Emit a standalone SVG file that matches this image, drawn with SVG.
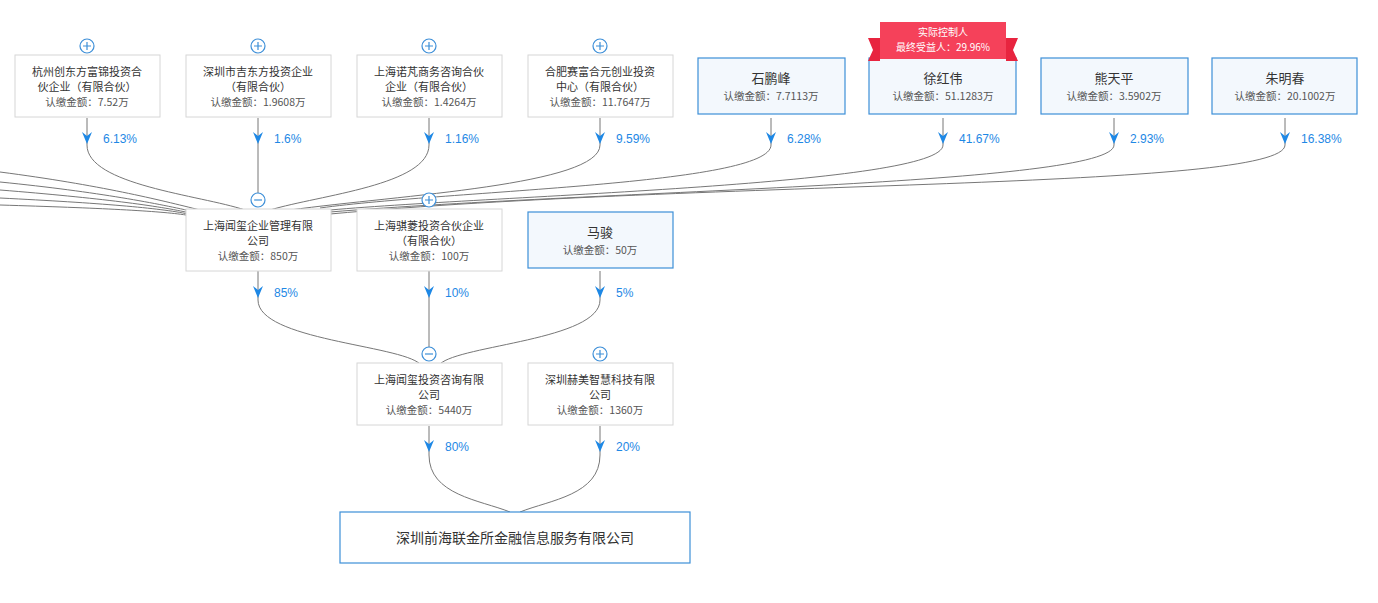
<svg xmlns="http://www.w3.org/2000/svg" width="1378" height="603" viewBox="0 0 1378 603">
<style>
.b{fill:#fff;stroke:#d6d6d6;stroke-width:1}
.p{fill:#f3f8fd;stroke:#3d8fd8;stroke-width:1.2}
.t{font-family:"Noto Sans CJK SC","Liberation Sans",sans-serif;font-size:11px;fill:#333;text-anchor:middle}
.n{font-family:"Noto Sans CJK SC","Liberation Sans",sans-serif;font-size:13px;fill:#333;text-anchor:middle}
.s{font-family:"Noto Sans CJK SC","Liberation Sans",sans-serif;font-size:10.5px;fill:#555;text-anchor:middle}
.pc{font-family:"Liberation Sans",sans-serif;font-size:12px;fill:#1e88e5}
.l{fill:none;stroke:#777;stroke-width:1}
.c{fill:#fff;stroke:#3d8fd8;stroke-width:1.2}
.cl{stroke:#3d8fd8;stroke-width:1.2}
</style>
<defs>
<marker id="a" markerWidth="10" markerHeight="12" refX="5" refY="10" orient="auto-start-reverse" markerUnits="userSpaceOnUse">
<path d="M0,0 L5,4 L10,0 L5,12 Z" fill="#1e88e5"/>
</marker>
</defs>
<rect width="1378" height="603" fill="#fff"/>
<g id="connectors">
<path class="l" d="M87,118 V145 C87,185 200,195 245,210"/>
<path class="l" d="M258,118 V195"/>
<path class="l" d="M429,118 V145 C429,185 320,195 270,210"/>
<path class="l" d="M600,118 V145 C600,185 400,195 290,210"/>
<path class="l" d="M771,118 V145 C771,185 450,190 320,208"/>
<path class="l" d="M943,118 V145 C943,185 500,195 330,210"/>
<path class="l" d="M1114,118 V145 C1114,185 600,190 330,212"/>
<path class="l" d="M1285,118 V145 C1285,190 700,180 330,214"/>
<path class="l" d="M0,172 C100,185 160,200 200,210"/>
<path class="l" d="M0,182 C100,192 160,204 195,212"/>
<path class="l" d="M0,190 C100,198 160,206 190,213"/>
<path class="l" d="M0,198 C100,203 160,208 188,214"/>
<path class="l" d="M0,205 C100,208 160,211 186,215"/>
<path class="l" d="M258,271 V300 C258,340 400,345 420,364"/>
<path class="l" d="M429,271 V348"/>
<path class="l" d="M600,271 V300 C600,340 460,345 440,364"/>
<path class="l" d="M429,426 V455 C429,495 480,500 510,512"/>
<path class="l" d="M600,426 V455 C600,495 550,500 520,512"/>
<g fill="#1e88e5">
<path d="M82,132 L87,136 L92,132 L87,144 Z"/><path d="M253,132 L258,136 L263,132 L258,144 Z"/>
<path d="M424,132 L429,136 L434,132 L429,144 Z"/><path d="M595,132 L600,136 L605,132 L600,144 Z"/>
<path d="M766,132 L771,136 L776,132 L771,144 Z"/><path d="M938,132 L943,136 L948,132 L943,144 Z"/>
<path d="M1109,132 L1114,136 L1119,132 L1114,144 Z"/><path d="M1280,132 L1285,136 L1290,132 L1285,144 Z"/>
<path d="M253,286 L258,290 L263,286 L258,298 Z"/><path d="M424,286 L429,290 L434,286 L429,298 Z"/>
<path d="M595,286 L600,290 L605,286 L600,298 Z"/>
<path d="M424,440 L429,444 L434,440 L429,452 Z"/><path d="M595,440 L600,444 L605,440 L600,452 Z"/>
</g>
<text class="pc" x="103" y="143">6.13%</text><text class="pc" x="274" y="143">1.6%</text>
<text class="pc" x="445" y="143">1.16%</text><text class="pc" x="616" y="143">9.59%</text>
<text class="pc" x="787" y="143">6.28%</text><text class="pc" x="959" y="143">41.67%</text>
<text class="pc" x="1130" y="143">2.93%</text><text class="pc" x="1301" y="143">16.38%</text>
<text class="pc" x="274" y="297">85%</text><text class="pc" x="445" y="297">10%</text><text class="pc" x="616" y="297">5%</text>
<text class="pc" x="445" y="451">80%</text><text class="pc" x="616" y="451">20%</text>
</g>
<g id="n1"><rect class="b" x="15" y="55" width="145" height="62"/><text class="t" x="87" y="76">杭州创东方富锦投资合</text><text class="t" x="87" y="91">伙企业（有限合伙）</text><text class="s" x="87" y="106">认缴金额：7.52万</text><circle class="c" cx="87" cy="46" r="7"/><path class="cl" d="M83,46 H91 M87,42 V50"/></g>
<g id="n2"><rect class="b" x="186" y="55" width="145" height="62"/><text class="t" x="258" y="76">深圳市吉东方投资企业</text><text class="t" x="258" y="91">（有限合伙）</text><text class="s" x="258" y="106">认缴金额：1.9608万</text><circle class="c" cx="258" cy="46" r="7"/><path class="cl" d="M254,46 H262 M258,42 V50"/></g>
<g id="n3"><rect class="b" x="357" y="55" width="145" height="62"/><text class="t" x="429" y="76">上海诺芃商务咨询合伙</text><text class="t" x="429" y="91">企业（有限合伙）</text><text class="s" x="429" y="106">认缴金额：1.4264万</text><circle class="c" cx="429" cy="46" r="7"/><path class="cl" d="M425,46 H433 M429,42 V50"/></g>
<g id="n4"><rect class="b" x="528" y="55" width="145" height="62"/><text class="t" x="600" y="76">合肥赛富合元创业投资</text><text class="t" x="600" y="91">中心（有限合伙）</text><text class="s" x="600" y="106">认缴金额：11.7647万</text><circle class="c" cx="600" cy="46" r="7"/><path class="cl" d="M596,46 H604 M600,42 V50"/></g>
<g id="n5"><rect class="p" x="698" y="58" width="147" height="56"/><text class="n" x="771" y="83">石鹏峰</text><text class="s" x="771" y="100">认缴金额：7.7113万</text></g>
<g id="n6"><rect class="p" x="869" y="58" width="147" height="56"/><text class="n" x="943" y="83">徐红伟</text><text class="s" x="943" y="100">认缴金额：51.1283万</text>
<path d="M868,38 L880,38 L880,61 L868,61 L873,50 Z M1018,38 L1006,38 L1006,61 L1018,61 L1013,50 Z" fill="#e8243f"/>
<rect x="880" y="22" width="126" height="37" fill="#f5415a"/>
<text x="943" y="36" font-family="'Noto Sans CJK SC',sans-serif" font-size="10px" fill="#fff" text-anchor="middle">实际控制人</text>
<text x="943" y="51" font-family="'Noto Sans CJK SC',sans-serif" font-size="10px" fill="#fff" text-anchor="middle">最终受益人：29.96%</text></g>
<g id="n7"><rect class="p" x="1041" y="58" width="147" height="56"/><text class="n" x="1114" y="83">熊天平</text><text class="s" x="1114" y="100">认缴金额：3.5902万</text></g>
<g id="n8"><rect class="p" x="1212" y="58" width="145" height="56"/><text class="n" x="1285" y="83">朱明春</text><text class="s" x="1285" y="100">认缴金额：20.1002万</text></g>
<g id="n9"><rect class="b" x="186" y="209" width="145" height="62"/><text class="t" x="258" y="230">上海闻玺企业管理有限</text><text class="t" x="258" y="245">公司</text><text class="s" x="258" y="260">认缴金额：850万</text><circle class="c" cx="258" cy="200" r="7"/><path class="cl" d="M254,200 H262"/></g>
<g id="n10"><rect class="b" x="357" y="209" width="145" height="62"/><text class="t" x="429" y="230">上海骐菱投资合伙企业</text><text class="t" x="429" y="245">（有限合伙）</text><text class="s" x="429" y="260">认缴金额：100万</text><circle class="c" cx="429" cy="200" r="7"/><path class="cl" d="M425,200 H433 M429,196 V204"/></g>
<g id="n11"><rect class="p" x="528" y="212" width="145" height="56"/><text class="n" x="600" y="237">马骏</text><text class="s" x="600" y="254">认缴金额：50万</text></g>
<g id="n12"><rect class="b" x="357" y="363" width="145" height="62"/><text class="t" x="429" y="384">上海闻玺投资咨询有限</text><text class="t" x="429" y="399">公司</text><text class="s" x="429" y="414">认缴金额：5440万</text><circle class="c" cx="429" cy="354" r="7"/><path class="cl" d="M425,354 H433"/></g>
<g id="n13"><rect class="b" x="528" y="363" width="145" height="62"/><text class="t" x="600" y="384">深圳赫美智慧科技有限</text><text class="t" x="600" y="399">公司</text><text class="s" x="600" y="414">认缴金额：1360万</text><circle class="c" cx="600" cy="354" r="7"/><path class="cl" d="M596,354 H604 M600,350 V358"/></g>
<g id="n14"><rect x="340" y="512" width="350" height="51" fill="#fff" stroke="#3d8fd8" stroke-width="1.2"/><text x="515" y="543" font-family="'Noto Sans CJK SC',sans-serif" font-size="14px" fill="#333" text-anchor="middle">深圳前海联金所金融信息服务有限公司</text></g>
</svg>
